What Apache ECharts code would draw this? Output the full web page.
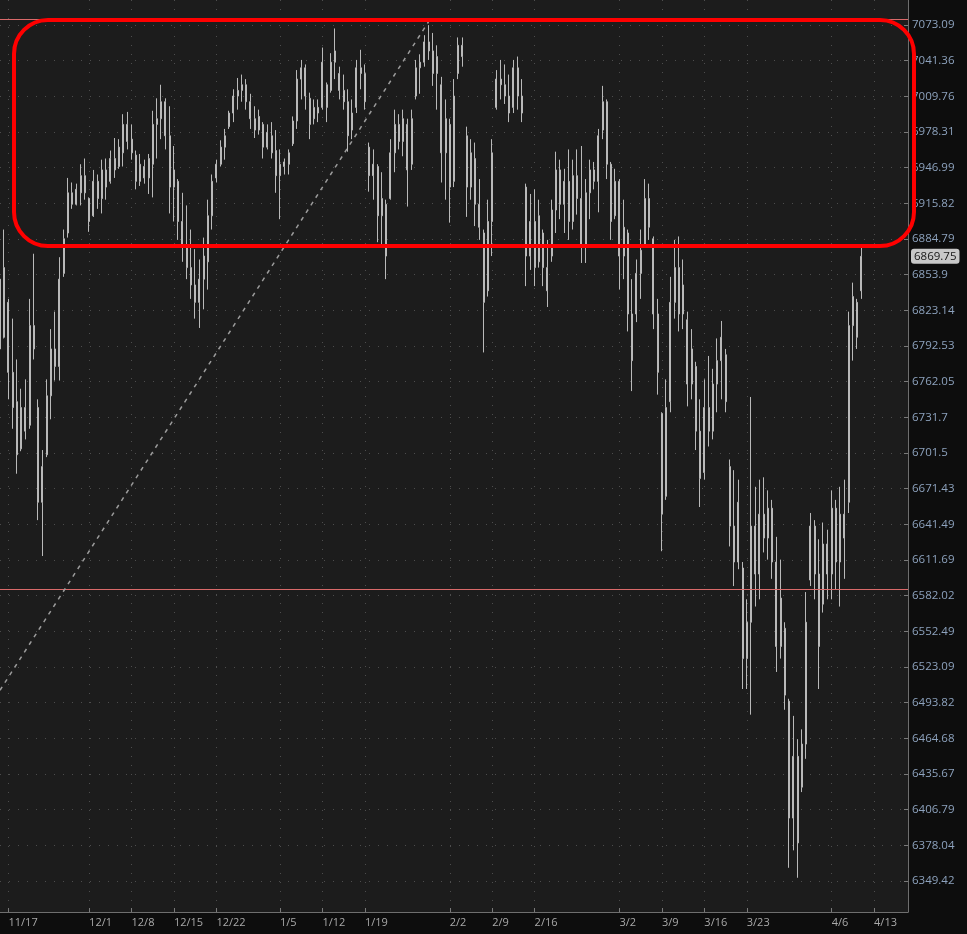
<!DOCTYPE html>
<html><head><meta charset="utf-8">
<script src="https://cdn.jsdelivr.net/npm/echarts@6/dist/echarts.min.js"></script>
<style>html,body{margin:0;padding:0;background:#0d0d0d;}#c{width:967px;height:934px;}</style>
</head><body><div id="c"></div>
<script>
// Trading days (two bars per day, except the short sessions listed below)
const tradingDays = ['11/14','11/17','11/18','11/19','11/20','11/21','11/24','11/25','11/26','11/27','11/28',
'12/1','12/2','12/3','12/4','12/5','12/8','12/9','12/10','12/11','12/12','12/15','12/16','12/17','12/18','12/19',
'12/22','12/23','12/24','12/26','12/29','12/30','12/31','1/2','1/5','1/6','1/7','1/8','1/9','1/12','1/13','1/14','1/15','1/16',
'1/19','1/20','1/21','1/22','1/23','1/26','1/27','1/28','1/29','1/30','2/2','2/3','2/4','2/5','2/6','2/9','2/10','2/11','2/12','2/13',
'2/16','2/17','2/18','2/19','2/20','2/23','2/24','2/25','2/26','2/27','3/2','3/3','3/4','3/5','3/6','3/9','3/10','3/11','3/12','3/13',
'3/16','3/17','3/18','3/19','3/20','3/23','3/24','3/25','3/26','3/27','3/30','3/31','4/1','4/2','4/3','4/6','4/7','4/8','4/9','4/10',
'4/13','4/14','4/15','4/16','4/17'];
const shortSessions = ['11/27','12/24','4/17'];
// dates shown on the x axis
const xTickLabels = ['11/17','12/1','12/8','12/15','12/22','1/5','1/12','1/19','2/2','2/9','2/16','3/2','3/9','3/16','3/23','4/6','4/13'];
// price scale labels (log scale)
const priceTicks = [7073.09,7041.36,7009.76,6978.31,6946.99,6915.82,6884.79,6853.9,6823.14,6792.53,6762.05,6731.7,6701.5,6671.43,6641.49,6611.69,6582.02,6552.49,6523.09,6493.82,6464.68,6435.67,6406.79,6378.04,6349.42];
const priceMin = 6324.65, priceMax = 7095.42;
// bars: [open, close, low, high]
const candles = [
[6850,6790,6762,6886],[6800,6860,6799,6893],[6830,6770,6747,6833],[6770,6740,6722,6816],[6745,6700,6684,6781],
[6705,6740,6703,6756],[6740,6720,6713,6764],[6725,6810,6722,6833],[6810,6790,6781,6872],[6740,6660,6645,6747],
[6660,6690,6615,6704],[6700,6750,6698,6764],[6750,6790,6730,6807],[6790,6775,6763,6822],[6775,6850,6763,6869],
[6855,6885,6852,6893],[6890,6925,6886,6938],[6925,6915,6911,6934],[6915,6928,6914,6933],[6925,6940,6914,6950],
[6940,6925,6919,6955],[6920,6900,6891,6921],[6905,6935,6904,6945],[6935,6920,6911,6941],[6920,6945,6907,6954],
[6945,6930,6919,6955],[6935,6955,6933,6962],[6955,6945,6938,6973],[6948,6965,6946,6972],[6960,6985,6948,6994],
[6985,6970,6963,6996],[6972,6960,6954,6985],[6958,6935,6928,6962],[6935,6950,6931,6959],[6948,6938,6933,6954],
[6938,6955,6924,6959],[6950,6985,6921,6997],[6985,6990,6955,7008],[6990,7005,6972,7020],[7005,6975,6963,7008],
[6975,6930,6907,7001],[6930,6945,6900,6966],[6935,6900,6884,6937],[6900,6880,6865,6925],[6880,6860,6850,6914],
[6860,6845,6833,6893],[6845,6830,6816,6876],[6830,6850,6808,6867],[6850,6870,6824,6886],[6865,6905,6841,6919],
[6905,6935,6893,6941],[6938,6950,6934,6954],[6950,6965,6948,6971],[6965,6975,6954,6981],[6983,6995,6981,6997],
[6995,7010,6987,7016],[7010,7015,6998,7026],[7015,7020,7005,7029],[7020,7005,6998,7025],[7005,6990,6981,7012],
[6990,6980,6973,7001],[6980,6992,6976,6998],[6985,6965,6955,6987],[6965,6978,6963,6985],[6975,6960,6955,6987],
[6962,6940,6925,6980],[6940,6950,6902,6963],[6948,6952,6941,6955],[6950,6960,6941,6963],[6968,6988,6966,6992],
[6988,7025,6981,7033],[7025,7035,7007,7042],[7035,7010,6998,7038],[7008,6985,6972,7013],[6990,7000,6985,7007],
[7000,6995,6987,7007],[7000,7040,6998,7053],[7020,7000,6987,7022],[7015,7040,7013,7048],[7040,7050,7025,7070],
[7030,7015,7007,7036],[7015,7005,6998,7029],[7005,6975,6961,7016],[6980,6995,6972,7007],[7000,7035,6995,7042],
[7035,7030,7016,7051],[7030,7005,6998,7038],[6965,6940,6926,6969],[6940,6950,6919,6963],[6948,6905,6882,6950],
[6905,6920,6880,6943],[6915,6870,6850,6919],[6920,6960,6919,6972],[6960,6985,6943,6998],[6985,6970,6963,6994],
[6970,6990,6957,6998],[6985,6945,6913,6990],[6950,6990,6945,6998],[7010,7035,7007,7042],[7035,7040,7012,7047],
[7040,7058,7036,7064],[7058,7050,7042,7073],[7050,7030,7019,7066],[7030,7045,6998,7055],[7020,6960,6934,7027],
[6960,6990,6919,7007],[6985,6930,6899,6990],[6935,7010,6930,7025],[7030,7055,7025,7062],[7055,7045,7036,7062],
[6975,6930,6904,6983],[6930,6960,6919,6972],[6955,6915,6896,6969],[6915,6895,6884,6937],[6890,6830,6787,6893],
[6840,6900,6835,6919],[6900,6960,6870,6972],[7000,7025,6998,7033],[7025,7020,7007,7042],[7020,7010,7003,7038],
[7010,6995,6987,7029],[7000,7035,6995,7042],[7035,7010,6998,7045],[7010,6995,6987,7025],[6930,6870,6844,6933],
[6870,6900,6858,6924],[6900,6860,6844,6928],[6865,6905,6860,6919],[6890,6860,6844,6893],[6860,6840,6826,6884],
[6870,6910,6865,6919],[6910,6945,6890,6961],[6945,6915,6902,6954],[6915,6935,6890,6946],[6935,6900,6884,6963],
[6900,6940,6893,6954],[6940,6920,6906,6963],[6920,6880,6864,6966],[6880,6925,6864,6937],[6925,6945,6902,6954],
[6945,6935,6928,6952],[6935,6975,6908,6981],[6980,7005,6972,7019],[7005,6950,6937,7007],[6950,6900,6884,6952],
[6905,6935,6902,6946],[6935,6870,6841,6937],[6870,6895,6850,6919],[6890,6820,6805,6893],[6820,6780,6754,6850],
[6820,6855,6813,6867],[6855,6875,6833,6893],[6880,6920,6878,6937],[6920,6895,6884,6933],[6885,6820,6807,6887],
[6820,6770,6751,6833],[6735,6650,6619,6736],[6665,6740,6662,6764],[6745,6830,6736,6852],[6830,6860,6816,6884],
[6860,6820,6805,6887],[6820,6845,6807,6867],[6815,6760,6741,6822],[6760,6790,6747,6807],[6775,6720,6704,6779],
[6720,6680,6656,6747],[6685,6740,6679,6764],[6740,6720,6707,6784],[6720,6760,6713,6773],[6760,6780,6736,6799],
[6780,6800,6747,6814],[6785,6745,6736,6790],[6690,6640,6623,6696],[6640,6610,6590,6687],[6610,6660,6604,6679],
[6605,6530,6505,6610],[6530,6560,6505,6579],[6560,6640,6484,6749],[6640,6600,6573,6673],[6600,6650,6579,6679],
[6650,6630,6618,6681],[6630,6655,6612,6670],[6655,6610,6596,6662],[6610,6540,6519,6631],[6540,6580,6530,6612],
[6555,6500,6488,6560],[6495,6400,6360,6497],[6400,6450,6374,6483],[6450,6380,6352,6464],[6425,6460,6421,6472],
[6460,6560,6448,6585],[6595,6640,6590,6651],[6640,6600,6579,6645],[6600,6540,6505,6629],[6575,6625,6568,6643],
[6625,6600,6579,6637],[6600,6655,6579,6670],[6655,6610,6587,6662],[6610,6650,6573,6673],[6650,6630,6596,6679],
[6660,6810,6651,6822],[6810,6835,6780,6847],[6830,6800,6790,6833],[6840,6869.75,6833,6878]
];
// horizontal levels and trend line
const upperLevel = 7078;
const lowerLevel = 6587;
const trendLine = [['11/14', 6504], ['1/28 PM', 7076]];

const sessions = [];
tradingDays.forEach(d => { sessions.push(d); if (!shortSessions.includes(d)) sessions.push(d + ' PM'); });
const lastPrice = candles[candles.length - 1][1];

const FONT = '"Open Sans", "Liberation Sans", sans-serif';
const barColor = '#b9b9b9';
const showLabel = (i, v) => xTickLabels.includes(v);

const chart = echarts.init(document.getElementById('c'), null, {renderer: 'canvas'});
chart.setOption({
  animation: false,
  backgroundColor: '#0d0d0d',
  grid: {left: 0, right: 59, top: 0, bottom: 22, show: true, backgroundColor: '#1c1c1c', borderWidth: 0},
  xAxis: {
    type: 'category', data: sessions, boundaryGap: false,
    axisLine: {show: true, lineStyle: {color: '#6e6e6e', width: 1}},
    axisTick: {show: true, inside: true, length: 4, interval: showLabel, lineStyle: {color: '#7a7a7a'}},
    axisLabel: {show: true, interval: showLabel, align: 'left', margin: 5, color: '#a9a9a9', fontSize: 11, fontFamily: FONT},
    splitLine: {show: true, interval: showLabel, lineStyle: {color: '#4d4d4d', type: [1, 8], width: 1}}
  },
  yAxis: {
    type: 'log', logBase: 10, position: 'right', min: priceMin, max: priceMax, scale: true,
    axisLine: {show: true, lineStyle: {color: '#6e6e6e', width: 1}},
    axisTick: {show: true, inside: true, length: 4, customValues: priceTicks, lineStyle: {color: '#7a7a7a'}},
    axisLabel: {
      show: true, customValues: priceTicks, margin: 4, color: '#8da2bd', fontSize: 11.5, fontFamily: FONT,
      formatter: v => {
        let best = priceTicks[0];
        priceTicks.forEach(t => { if (Math.abs(t - v) < Math.abs(best - v)) best = t; });
        return String(best);
      }
    },
    splitLine: {show: true, lineStyle: {color: '#4d4d4d', type: [1, 8], width: 1}}
  },
  series: [{
    type: 'candlestick', data: candles, barWidth: 1.5, clip: false,
    itemStyle: {color: barColor, color0: barColor, borderColor: barColor, borderColor0: barColor, borderWidth: 1},
    markLine: {
      silent: true, symbol: ['none', 'none'], animation: false,
      data: [
        {yAxis: upperLevel, lineStyle: {color: '#d96a6a', width: 1, type: 'solid'}, label: {show: false}},
        {yAxis: lowerLevel, lineStyle: {color: '#d96a6a', width: 1, type: 'solid'}, label: {show: false}},
        [{coord: trendLine[0], lineStyle: {color: '#9c9c9c', width: 1.5, type: [4, 5]}, label: {show: false}}, {coord: trendLine[1]}],
        {yAxis: lastPrice, lineStyle: {color: 'rgba(0,0,0,0)', width: 1},
         label: {show: true, position: 'end', distance: 3, formatter: String(lastPrice), color: '#161616',
                 backgroundColor: '#c8c8c8', borderRadius: 3, padding: [2, 3, 1, 3], fontSize: 11.5, fontFamily: FONT}}
      ]
    }
  }],
  graphic: [{
    type: 'rect', z: 100, silent: true,
    shape: {x: 14, y: 20, width: 900, height: 226, r: 34},
    style: {fill: 'none', stroke: '#ff0000', lineWidth: 4}
  }]
});
</script></body></html>
